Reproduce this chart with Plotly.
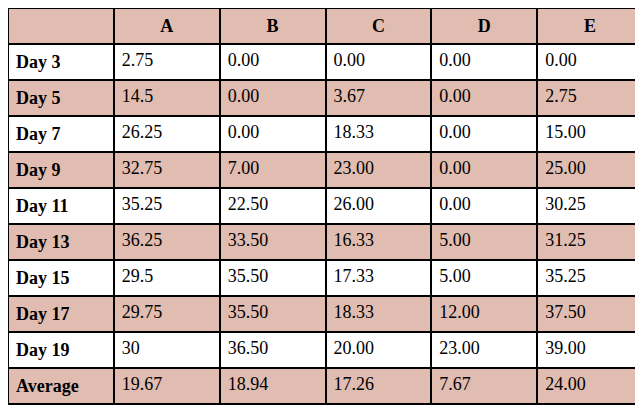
import plotly.graph_objects as go

columns = ["", "A", "B", "C", "D", "E"]
days = ["Day 3", "Day 5", "Day 7", "Day 9", "Day 11", "Day 13", "Day 15", "Day 17", "Day 19", "Average"]
col_a = ["2.75", "14.5", "26.25", "32.75", "35.25", "36.25", "29.5", "29.75", "30", "19.67"]
col_b = ["0.00", "0.00", "0.00", "7.00", "22.50", "33.50", "35.50", "35.50", "36.50", "18.94"]
col_c = ["0.00", "3.67", "18.33", "23.00", "26.00", "16.33", "17.33", "18.33", "20.00", "17.26"]
col_d = ["0.00", "0.00", "0.00", "0.00", "0.00", "5.00", "5.00", "12.00", "23.00", "7.67"]
col_e = ["0.00", "2.75", "15.00", "25.00", "30.25", "31.25", "35.25", "37.50", "39.00", "24.00"]

pink = "#e1bcb0"
row_fill = ["white" if i % 2 == 0 else pink for i in range(len(days))]
bold_days = ["<b>%s</b>" % d for d in days]

fig = go.Figure(go.Table(
    columnwidth=[1, 1, 1, 1, 1, 1],
    header=dict(
        values=["<b>%s</b>" % c for c in columns],
        fill_color=pink, line=dict(color="black", width=2),
        align="center", height=34,
        font=dict(family="Liberation Serif", size=18, color="black"),
    ),
    cells=dict(
        values=[bold_days, col_a, col_b, col_c, col_d, col_e],
        fill_color=[row_fill] * 6, line=dict(color="black", width=2),
        align="left", height=35,
        font=dict(family="Liberation Serif", size=18, color="black"),
    ),
))
fig.update_layout(width=643, height=407, margin=dict(l=0, r=8, t=0, b=0),
                  paper_bgcolor="white")
fig.write_html("out.html")
